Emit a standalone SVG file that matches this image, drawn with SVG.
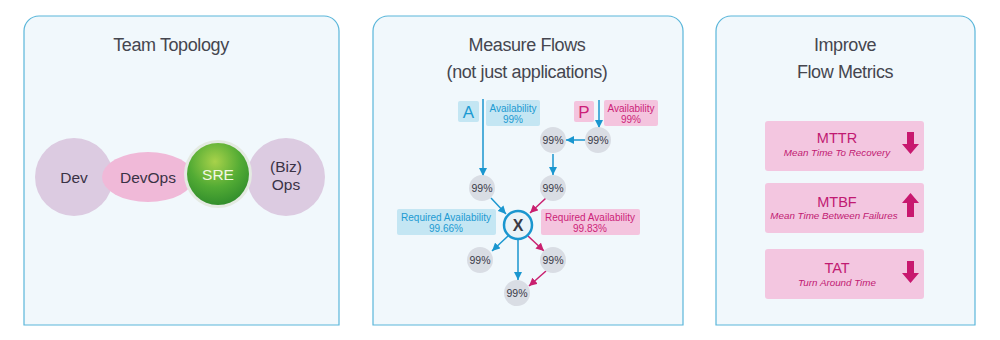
<svg xmlns="http://www.w3.org/2000/svg" width="1000" height="340" viewBox="0 0 1000 340">
<defs>
<style>
.panel{fill:#f1f8fc;stroke:#5ab6da;stroke-width:1.2}
.title{font-family:"Liberation Sans",Arial,sans-serif;font-size:18px;fill:#45464f;text-anchor:middle;letter-spacing:-0.4px}
.lbl{font-family:"Liberation Sans",Arial,sans-serif;font-size:15.5px;fill:#3a3245;text-anchor:middle}
.lav{fill:#dccbe1}
.gc{fill:#d9dde4}
.pct{font-family:"Liberation Sans",Arial,sans-serif;font-size:10.5px;fill:#3a3b48;text-anchor:middle}
.bbox{fill:#c4e6f3}
.pbox{fill:#f4c4de}
.btx{font-family:"Liberation Sans",Arial,sans-serif;font-size:10px;fill:#1c9ad2;text-anchor:middle}
.ptx{font-family:"Liberation Sans",Arial,sans-serif;font-size:10px;fill:#cc1f78;text-anchor:middle}
.big{font-size:17px}
.bl{stroke:#1a96cf;stroke-width:1.5;fill:none}
.mg{stroke:#c9206f;stroke-width:1.5;fill:none}
.mbox{fill:#f3c6e0}
.mt{font-family:"Liberation Sans",Arial,sans-serif;font-size:14.5px;fill:#c11a72;text-anchor:middle}
.ms{font-family:"Liberation Sans",Arial,sans-serif;font-size:9.8px;font-style:italic;fill:#c11a72;text-anchor:middle}
.arr{fill:#c8186f}
</style>
<marker id="ab" markerUnits="userSpaceOnUse" markerWidth="8" markerHeight="8" viewBox="0 0 8 8" refX="8" refY="4" orient="auto"><path d="M0,0 L8,4 L0,8 Z" fill="#1a96cf"/></marker>
<marker id="am" markerUnits="userSpaceOnUse" markerWidth="8" markerHeight="8" viewBox="0 0 8 8" refX="8" refY="4" orient="auto"><path d="M0,0 L8,4 L0,8 Z" fill="#c9206f"/></marker>
<radialGradient id="green" cx="0.45" cy="0.3" r="0.75">
<stop offset="0" stop-color="#a8d24a"/>
<stop offset="0.55" stop-color="#52ab34"/>
<stop offset="1" stop-color="#2d8a2b"/>
</radialGradient>
</defs>

<g id="panel-team">
<path class="panel" d="M24,325 V31 A15,15 0 0 1 39,16 H324 A15,15 0 0 1 339,31 V325 Z"/>
<text class="title" x="171" y="51">Team Topology</text>
</g>
<g id="panel-measure">
<path class="panel" d="M373,325 V31 A15,15 0 0 1 388,16 H668 A15,15 0 0 1 683,31 V325 Z"/>
<text class="title" x="527" y="51">Measure Flows</text>
<text class="title" x="527" y="78">(not just applications)</text>
</g>
<g id="panel-improve">
<path class="panel" d="M716,325 V31 A15,15 0 0 1 731,16 H960 A15,15 0 0 1 975,31 V325 Z"/>
<text class="title" x="845" y="51">Improve</text>
<text class="title" x="845" y="78">Flow Metrics</text>
</g>

<g id="node-dev"><circle class="lav" cx="74" cy="177" r="39"/><text class="lbl" x="74" y="183">Dev</text></g>
<g id="node-bizops"><circle class="lav" cx="286" cy="177" r="39"/><text class="lbl" x="286" y="172">(Biz)</text><text class="lbl" x="286" y="190">Ops</text></g>
<g id="node-devops"><ellipse cx="148" cy="177" rx="46" ry="25" fill="#f0b9d8"/><text class="lbl" x="148" y="183">DevOps</text></g>
<g id="node-sre"><circle cx="218" cy="174" r="34" fill="#e4eae2"/><circle cx="218" cy="174" r="31" fill="url(#green)"/><text class="lbl" x="218" y="180" style="fill:#f2f7e4">SRE</text></g>

<g id="labels">
<rect class="bbox" x="458" y="101" width="21" height="21" rx="2"/><text class="btx big" x="468.5" y="117.5">A</text>
<rect class="bbox" x="486" y="100" width="54" height="26" rx="2"/><text class="btx" x="513" y="112">Availability</text><text class="btx" x="513" y="123">99%</text>
<rect class="pbox" x="574" y="101" width="20" height="21" rx="2"/><text class="ptx big" x="584" y="117.5">P</text>
<rect class="pbox" x="604" y="100" width="54" height="26" rx="2"/><text class="ptx" x="631" y="112">Availability</text><text class="ptx" x="631" y="123">99%</text>
<rect class="bbox" x="397" y="209" width="99" height="26" rx="2"/><text class="btx" x="446" y="221">Required Availability</text><text class="btx" x="446" y="232">99.66%</text>
<rect class="pbox" x="541" y="209" width="99" height="26" rx="2"/><text class="ptx" x="590" y="221">Required Availability</text><text class="ptx" x="590" y="232">99.83%</text>
</g>

<g id="connectors">
<line class="bl" x1="483" y1="99" x2="483" y2="176" marker-end="url(#ab)"/>
<line class="bl" x1="599" y1="100" x2="599" y2="128" marker-end="url(#ab)"/>
<line class="bl" x1="586" y1="140" x2="566" y2="140" marker-end="url(#ab)"/>
<line class="bl" x1="553" y1="154" x2="553" y2="175" marker-end="url(#ab)"/>
<line class="bl" x1="491" y1="198" x2="506" y2="214" marker-end="url(#ab)"/>
<line class="mg" x1="546" y1="198" x2="530" y2="213" marker-end="url(#am)"/>
<line class="bl" x1="508" y1="236" x2="492" y2="251" marker-end="url(#ab)"/>
<line class="mg" x1="528" y1="236" x2="544" y2="251" marker-end="url(#am)"/>
<line class="bl" x1="518" y1="240" x2="518" y2="280" marker-end="url(#ab)"/>
<line class="mg" x1="546" y1="271" x2="529" y2="286" marker-end="url(#am)"/>
</g>

<g id="node-c1"><circle class="gc" cx="598" cy="140" r="13"/><text class="pct" x="598" y="144">99%</text></g>
<g id="node-c2"><circle class="gc" cx="553" cy="140" r="13"/><text class="pct" x="553" y="144">99%</text></g>
<g id="node-c3"><circle class="gc" cx="482" cy="188" r="13"/><text class="pct" x="482" y="192">99%</text></g>
<g id="node-c4"><circle class="gc" cx="553" cy="188" r="13"/><text class="pct" x="553" y="192">99%</text></g>
<g id="node-x"><circle cx="518" cy="225" r="14" fill="#eaf3f8" stroke="#1a96cf" stroke-width="2.5"/><text x="518" y="231" font-family="Liberation Sans,Arial,sans-serif" font-size="16" font-weight="bold" fill="#3a3b46" text-anchor="middle">X</text></g>
<g id="node-c5"><circle class="gc" cx="480" cy="260" r="13"/><text class="pct" x="480" y="264">99%</text></g>
<g id="node-c6"><circle class="gc" cx="553" cy="260" r="13"/><text class="pct" x="553" y="264">99%</text></g>
<g id="node-c7"><circle class="gc" cx="517" cy="293" r="13"/><text class="pct" x="517" y="297">99%</text></g>

<g id="node-mttr">
<rect class="mbox" x="765" y="121" width="159" height="50" rx="3"/>
<text class="mt" x="837" y="143">MTTR</text>
<text class="ms" x="837" y="156">Mean Time To Recovery</text>
<path class="arr" d="M907,132 H914 V144 H919 L910.5,154 L902,144 H907 Z"/>
</g>
<g id="node-mtbf">
<rect class="mbox" x="765" y="183" width="159" height="50" rx="3"/>
<text class="mt" x="837" y="207">MTBF</text>
<text class="ms" x="834" y="219">Mean Time Between Failures</text>
<path class="arr" d="M907,217 H914 V203 H919 L910.5,193 L902,203 H907 Z"/>
</g>
<g id="node-tat">
<rect class="mbox" x="765" y="249" width="159" height="50" rx="3"/>
<text class="mt" x="837" y="273">TAT</text>
<text class="ms" x="837" y="286">Turn Around Time</text>
<path class="arr" d="M907,261 H914 V273 H919 L910.5,283 L902,273 H907 Z"/>
</g>
</svg>
